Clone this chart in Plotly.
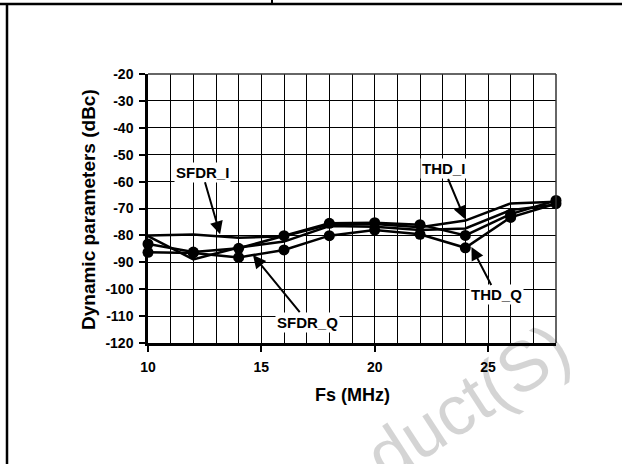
import plotly.graph_objects as go

fs_mhz = [10, 12, 14, 16, 18, 20, 22, 24, 26, 28]
sfdr_i = [-80, -79.7, -80.9, -80.3, -76, -75.8, -77, -74.5, -68.1, -67.5]
thd_i = [-80.3, -88.9, -84.5, -82.3, -76.5, -76.8, -78, -77.4, -70.6, -68.5]
thd_q = [-83.2, -86.2, -84.8, -80.1, -75.5, -75.3, -76, -80, -72.1, -67]
sfdr_q = [-86.3, -86.5, -88.2, -85.4, -80.1, -78, -79.6, -84.6, -73.3, -68.2]

x_ticks = [10, 15, 20, 25]
y_ticks = list(range(-120, -10, 10))

FONT = "Liberation Sans, Arial, sans-serif"

W, H = 622, 464
L, R, T, B = 148, 66, 74, 121
PW, PH = W - L - R, H - T - B


def xp(px):
    return (px - L) / PW


def yp(py):
    return (H - B - py) / PH


fig = go.Figure()
for name, vals, marked in [("SFDR_I", sfdr_i, False), ("THD_I", thd_i, False),
                           ("THD_Q", thd_q, True), ("SFDR_Q", sfdr_q, True)]:
    fig.add_trace(go.Scatter(
        x=fs_mhz, y=vals, name=name,
        mode="lines+markers" if marked else "lines",
        line=dict(color="black", width=2.5),
        marker=dict(color="black", size=11),
        cliponaxis=False,
    ))

annotations = []
# watermark (translucent so the text beneath it stays dark)
annotations.append(dict(
    x=xp(468), y=yp(402), xref="paper", yref="paper", textangle=-33,
    xanchor="center", yanchor="middle",
    text="duct(S)", showarrow=False,
    font=dict(family=FONT, size=70, color="rgba(0,0,0,0.17)"),
))

labels = [
    ("SFDR_I", 13.18, -79.6, -18, -62),
    ("SFDR_Q", 14.63, -87.3, 55, 67),
    ("THD_I", 23.98, -73.9, -21, -50),
    ("THD_Q", 24.27, -84.3, 25, 48),
]
for text, tx, ty, ax, ay in labels:
    annotations.append(dict(
        x=tx, y=ty, xref="x", yref="y", text="<b>%s</b>" % text,
        showarrow=True, ax=ax, ay=ay, arrowhead=2, arrowsize=1.3,
        arrowwidth=2, arrowcolor="black", bgcolor="white",
        font=dict(family=FONT, size=15, color="black"),
    ))

annotations.append(dict(
    x=xp(88), y=yp(210), xref="paper", yref="paper", textangle=-90,
    xanchor="center", yanchor="middle",
    text="<b>Dynamic parameters (dBc)</b>", showarrow=False,
    font=dict(family=FONT, size=19, color="black"),
))
annotations.append(dict(
    x=xp(352), y=yp(395), xref="paper", yref="paper",
    xanchor="center", yanchor="middle",
    text="<b>Fs (MHz)</b>", showarrow=False,
    font=dict(family=FONT, size=18, color="black"),
))

shapes = [
    dict(type="line", xref="paper", yref="paper", x0=0, x1=1, y0=1, y1=1,
         line=dict(color="#333333", width=1.5)),
    dict(type="line", xref="paper", yref="paper", x0=1, x1=1, y0=0, y1=1,
         line=dict(color="#333333", width=1.5)),
    dict(type="line", xref="paper", yref="paper", x0=xp(0), x1=xp(W), y0=yp(4), y1=yp(4),
         line=dict(color="black", width=2.5)),
    dict(type="line", xref="paper", yref="paper", x0=xp(7), x1=xp(7), y0=yp(4), y1=yp(H),
         line=dict(color="black", width=2.5)),
    dict(type="line", xref="paper", yref="paper", x0=xp(272), x1=xp(272), y0=yp(0), y1=yp(3),
         line=dict(color="black", width=2)),
]

fig.update_layout(
    width=W, height=H,
    margin=dict(l=L, r=R, t=T, b=B, pad=0),
    paper_bgcolor="white", plot_bgcolor="white",
    showlegend=False,
    font=dict(family=FONT, color="black"),
    annotations=annotations,
    shapes=shapes,
    xaxis=dict(
        range=[10, 28], tickvals=x_ticks, ticktext=["<b>%d</b>" % v for v in x_ticks],
        ticks="outside", ticklen=6, tickwidth=2, tickcolor="black",
        showline=True, linecolor="black", linewidth=2.5,
        showgrid=True, gridcolor="black", gridwidth=1,
        minor=dict(dtick=1, showgrid=True, gridcolor="black", gridwidth=1, ticks=""),
        tickfont=dict(family=FONT, size=14, color="black"),
        ticklabelstandoff=3, zeroline=False,
    ),
    yaxis=dict(
        range=[-120, -20], tickvals=y_ticks, ticktext=["<b>%d</b>" % v for v in y_ticks],
        ticks="outside", ticklen=6, tickwidth=2, tickcolor="black",
        showline=True, linecolor="black", linewidth=2.5,
        showgrid=True, gridcolor="black", gridwidth=1,
        tickfont=dict(family=FONT, size=14, color="black"),
        ticklabelstandoff=3, zeroline=False,
    ),
)

fig.write_html(
    "out.html",
    config={"displayModeBar": False},
    post_script="document.body.style.margin='0';document.body.style.overflow='hidden';",
)
